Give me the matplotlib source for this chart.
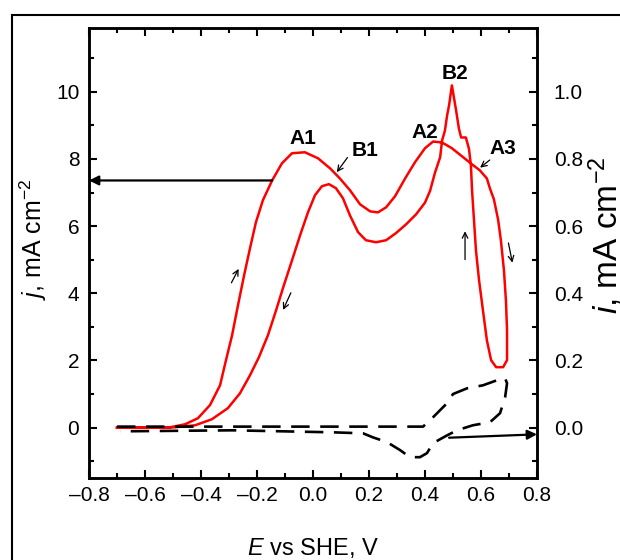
import matplotlib
matplotlib.use("Agg")
import matplotlib.pyplot as plt
from matplotlib.patches import Rectangle
from matplotlib.ticker import MultipleLocator, FuncFormatter

plt.rcParams['font.family'] = ['Liberation Sans', 'DejaVu Sans']
plt.rcParams['mathtext.fontset'] = 'custom'
plt.rcParams['mathtext.rm'] = 'Liberation Sans'
plt.rcParams['mathtext.it'] = 'Liberation Sans:italic'

# Red CV curve (left axis, j, mA cm^-2)
red_E = [-0.700, -0.511, -0.457, -0.411, -0.368, -0.332, -0.311, -0.289, -0.268, -0.246,
         -0.225, -0.204, -0.179, -0.146, -0.111, -0.075, -0.029, 0.018, 0.061, 0.096,
         0.132, 0.168, 0.204, 0.232, 0.261, 0.293, 0.329, 0.364, 0.400, 0.429,
         0.461, 0.496, 0.532, 0.568, 0.596, 0.621, 0.632, 0.646, 0.661, 0.671,
         0.682, 0.689, 0.693, 0.693, 0.679, 0.654, 0.636, 0.621, 0.607, 0.593,
         0.582, 0.575, 0.568, 0.564, 0.557, 0.546, 0.529, 0.521, 0.511, 0.496,
         0.486, 0.479, 0.471, 0.461, 0.454, 0.436, 0.418, 0.400, 0.368, 0.332,
         0.296, 0.261, 0.225, 0.189, 0.161, 0.132, 0.107, 0.082, 0.057, 0.032,
         0.007, -0.018, -0.046, -0.075, -0.104, -0.132, -0.161, -0.193, -0.225, -0.261,
         -0.304, -0.361, -0.421, -0.493, -0.700]
red_j = [0.00, 0.01, 0.10, 0.28, 0.67, 1.26, 2.00, 2.75, 3.64, 4.54,
         5.34, 6.11, 6.77, 7.36, 7.87, 8.17, 8.20, 8.02, 7.72, 7.42,
         7.07, 6.65, 6.44, 6.41, 6.56, 6.89, 7.42, 7.90, 8.32, 8.52,
         8.49, 8.32, 8.08, 7.84, 7.66, 7.42, 7.12, 6.80, 6.20, 5.58,
         4.68, 3.79, 2.90, 2.01, 1.80, 1.80, 2.01, 2.60, 3.49, 4.39,
         5.28, 6.17, 7.07, 7.81, 8.30, 8.64, 8.64, 8.91, 9.45, 10.19,
         9.60, 9.30, 8.84, 8.55, 8.05, 7.60, 7.05, 6.70, 6.35, 6.05,
         5.79, 5.58, 5.52, 5.58, 5.82, 6.32, 6.83, 7.13, 7.25, 7.19,
         6.92, 6.41, 5.73, 4.98, 4.24, 3.49, 2.75, 2.10, 1.56, 1.02,
         0.58, 0.25, 0.07, 0.01, 0.00]

# Black dashed CV curve (right axis, i, mA cm^-2)
blk_E = [-0.700, -0.300, 0.393, 0.429, 0.479, 0.500, 0.550, 0.607, 0.657, 0.686,
         0.693, 0.686, 0.668, 0.632, 0.571, 0.514, 0.479, 0.429, 0.407, 0.382,
         0.346, 0.311, 0.264, 0.214, 0.179, 0.071, -0.286, -0.689]
blk_i = [0.003, 0.003, 0.003, 0.031, 0.073, 0.100, 0.117, 0.126, 0.141, 0.147,
         0.132, 0.090, 0.043, 0.016, 0.007, -0.008, -0.023, -0.046, -0.076, -0.088,
         -0.088, -0.067, -0.043, -0.029, -0.017, -0.014, -0.008, -0.011]

x_ticks = [-0.8, -0.6, -0.4, -0.2, 0.0, 0.2, 0.4, 0.6, 0.8]
left_ticks = [0, 2, 4, 6, 8, 10]
right_ticks = [0.0, 0.2, 0.4, 0.6, 0.8, 1.0]

peak_labels = ['A1', 'B1', 'A2', 'B2', 'A3']
peak_label_E = [-0.036, 0.186, 0.400, 0.507, 0.679]
peak_label_j = [8.61, 8.26, 8.79, 10.55, 8.30]

fig = plt.figure(figsize=(6.2, 5.6), dpi=100)
fig.patches.append(Rectangle((12/620, -0.2), 1.5, 1.2 - 15/560, transform=fig.transFigure,
                             fill=False, lw=1.5, edgecolor='black'))
ax = fig.add_axes([89/620, 1 - 478/560, (537-89)/620, (478-28)/560])
ax2 = ax.twinx()

ax.plot(red_E, red_j, color='red', lw=1.8, zorder=3)
ax2.plot(blk_E, blk_i, color='black', lw=1.9, dashes=(7, 4))

ax.set_xlim(-0.8, 0.8)
ax.set_ylim(-1.5, 11.9)
ax2.set_ylim(-0.15, 1.19)

def fmt(v, pos):
    s = f"{v:.1f}"
    return s.replace('-', '\u2013')

ax.set_xticks(x_ticks)
ax.xaxis.set_major_formatter(FuncFormatter(fmt))
ax.xaxis.set_minor_locator(MultipleLocator(0.1))
ax.set_yticks(left_ticks)
ax.yaxis.set_minor_locator(MultipleLocator(1))
ax2.set_yticks(right_ticks)
ax2.yaxis.set_major_formatter(FuncFormatter(fmt))
ax2.yaxis.set_minor_locator(MultipleLocator(0.1))

for a in (ax, ax2):
    for s in a.spines.values():
        s.set_linewidth(1.8)
ax.tick_params(axis='both', which='major', direction='in', length=5.8, width=1.5,
               labelsize=15, top=True, right=False)
ax.tick_params(axis='both', which='minor', direction='in', length=3.6, width=1.5,
               top=True, right=False)
ax.tick_params(axis='x', pad=6)
ax.tick_params(axis='y', pad=7)
ax2.tick_params(axis='y', which='major', direction='in', length=5.8, width=1.5,
                labelsize=15, pad=12)
ax2.tick_params(axis='y', which='minor', direction='in', length=3.6, width=1.5)

ax.set_xlabel(r'$\it{E}$ vs SHE, V', fontsize=17)
ax.set_ylabel(r'$\it{j}$, mA cm$^{-2}$', fontsize=18)
ax.yaxis.set_label_coords(-0.09, 0.53)
ax.xaxis.set_label_coords(0.5, -0.128)
ax2.set_ylabel(r'$\it{i}$, mA cm$^{-2}$', fontsize=24, rotation=90)
ax2.yaxis.set_label_coords(1.11, 0.54)

for lab, e, j in zip(peak_labels, peak_label_E, peak_label_j):
    ax.text(e, j, lab, ha='center', va='center', fontsize=15, fontweight='bold')

# pointer arrows for B1 and A3
ax.annotate('', xy=(0.079, 7.54), xytext=(0.129, 8.11),
            arrowprops=dict(arrowstyle='->', lw=0.9, color='black'))
ax.annotate('', xy=(0.589, 7.69), xytext=(0.639, 8.02),
            arrowprops=dict(arrowstyle='->', lw=0.9, color='black'))

# scan direction arrows
ax.annotate('', xy=(-0.261, 4.80), xytext=(-0.296, 4.24),
            arrowprops=dict(arrowstyle='->', lw=0.9, color='black'))
ax.annotate('', xy=(-0.111, 3.43), xytext=(-0.075, 4.09),
            arrowprops=dict(arrowstyle='->', lw=0.9, color='black'))
ax.annotate('', xy=(0.543, 5.93), xytext=(0.543, 4.92),
            arrowprops=dict(arrowstyle='->', lw=0.9, color='black'))
ax.annotate('', xy=(0.714, 4.83), xytext=(0.696, 5.58),
            arrowprops=dict(arrowstyle='->', lw=0.9, color='black'))

# axis-assignment arrows
ax.annotate('', xy=(-0.8, 7.36), xytext=(-0.146, 7.36),
            arrowprops=dict(arrowstyle='-|>', lw=1.6, color='black', mutation_scale=14,
                            shrinkA=0, shrinkB=0))
ax2.annotate('', xy=(0.8, -0.02), xytext=(0.486, -0.03),
             arrowprops=dict(arrowstyle='-|>', lw=1.6, color='black', mutation_scale=14,
                             shrinkA=0, shrinkB=0))

fig.savefig('out.png', dpi=100)
